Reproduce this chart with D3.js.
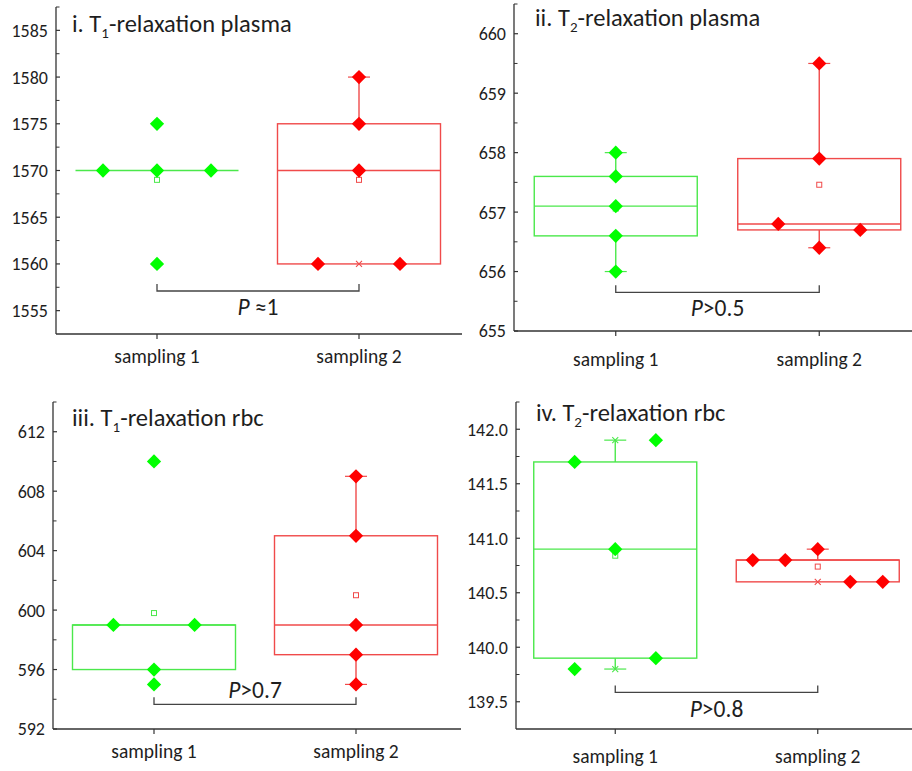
<!DOCTYPE html>
<html>
<head>
<meta charset="utf-8">
<script src="https://cdn.jsdelivr.net/npm/d3@7/dist/d3.min.js"></script>
<style>
  body { margin: 0; background: #fff; }
  svg { display: block; }
  text { font-family: Carlito, Lato, "Open Sans", sans-serif; fill: #1e1e1e; }
</style>
</head>
<body>
<svg id="chart" width="912" height="771"></svg>
<script>
// ---- data ---------------------------------------------------------------
const categories = ["sampling 1", "sampling 2"];

// i. T1-relaxation plasma
const t1PlasmaS1 = [1570, 1575, 1570, 1560, 1570];
const t1PlasmaS1Lane = [-1, 0, 0, 0, 1];
const t1PlasmaS2 = [1580, 1575, 1570, 1560, 1560];
const t1PlasmaS2Lane = [0, 0, 0, -1, 1];
// box statistics per sampling: [q1, median, q3, whisker low, whisker high]
const t1PlasmaBox = [[1570, 1570, 1570, 1570, 1570], [1560, 1570, 1575, 1560, 1580]];
const t1PlasmaCross = [[], [1560, 1580]];
const t1PlasmaTicks = [1555, 1560, 1565, 1570, 1575, 1580, 1585];

// ii. T2-relaxation plasma
const t2PlasmaS1 = [658.0, 657.6, 657.1, 656.6, 656.0];
const t2PlasmaS1Lane = [0, 0, 0, 0, 0];
const t2PlasmaS2 = [659.5, 657.9, 656.8, 656.4, 656.7];
const t2PlasmaS2Lane = [0, 0, -1, 0, 1];
const t2PlasmaBox = [[656.6, 657.1, 657.6, 656.0, 658.0], [656.7, 656.8, 657.9, 656.4, 659.5]];
const t2PlasmaCross = [[656.0, 658.0], [656.4, 659.5]];
const t2PlasmaTicks = [655, 656, 657, 658, 659, 660];

// iii. T1-relaxation rbc
const t1RbcS1 = [610, 599, 599, 596, 595];
const t1RbcS1Lane = [0, -1, 1, 0, 0];
const t1RbcS2 = [609, 605, 599, 597, 595];
const t1RbcS2Lane = [0, 0, 0, 0, 0];
const t1RbcBox = [[596, 599, 599, 596, 599], [597, 599, 605, 595, 609]];
const t1RbcCross = [[], [595, 609]];
const t1RbcTicks = [592, 596, 600, 604, 608, 612];

// iv. T2-relaxation rbc
const t2RbcS1 = [141.7, 141.9, 140.9, 139.8, 139.9];
const t2RbcS1Lane = [-1, 1, 0, -1, 1];
const t2RbcS2 = [140.8, 140.8, 140.9, 140.6, 140.6];
const t2RbcS2Lane = [-2, -1, 0, 1, 2];
const t2RbcBox = [[139.9, 140.9, 141.7, 139.8, 141.9], [140.6, 140.8, 140.8, 140.6, 140.9]];
const t2RbcCross = [[139.8, 141.9], [140.6, 140.9]];
const t2RbcTicks = [139.5, 140.0, 140.5, 141.0, 141.5, 142.0];

const pValues = ["≈1", ">0.5", ">0.7", ">0.8"];

// ---- styling --------------------------------------------------------------
const seriesStyle = [
  { fill: "#00ff00", line: "#4be84b" },
  { fill: "#ff0000", line: "#f04a4a" }
];
const axisColor = "#333";
const tickFont = 18, catFont = 19.5, titleFont = 24.5, subFont = 15, pFont = 23.5;

// ---- panel layout ---------------------------------------------------------
const panels = [
  {
    title: ["i. T", "1", "-relaxation plasma"], titleX: 72, titleY: 32,
    axisX: 56, top: 7, bottom: 334, xEnd: 462, xRange: [56, 460],
    domain: [1552.5, 1587.5], ticks: t1PlasmaTicks, fmt: d3.format("d"),
    values: [t1PlasmaS1, t1PlasmaS2], lanes: [t1PlasmaS1Lane, t1PlasmaS2Lane],
    lanePitch: [54, 41], box: t1PlasmaBox, cross: t1PlasmaCross,
    bracket: 1557.1, pText: pValues[0], pDy: 24, labelDy: 29
  },
  {
    title: ["ii. T", "2", "-relaxation plasma"], titleX: 535, titleY: 26,
    axisX: 514, top: 4, bottom: 331, xEnd: 912, xRange: [514, 921],
    domain: [655, 660.5], ticks: t2PlasmaTicks, fmt: d3.format("d"),
    values: [t2PlasmaS1, t2PlasmaS2], lanes: [t2PlasmaS1Lane, t2PlasmaS2Lane],
    lanePitch: [40, 41], box: t2PlasmaBox, cross: t2PlasmaCross,
    bracket: 655.65, pText: pValues[1], pDy: 24, labelDy: 35
  },
  {
    title: ["iii. T", "1", "-relaxation rbc"], titleX: 72, titleY: 426,
    axisX: 53, top: 402, bottom: 729, xEnd: 461, xRange: [53, 457],
    domain: [592, 614], ticks: t1RbcTicks, fmt: d3.format("d"),
    values: [t1RbcS1, t1RbcS2], lanes: [t1RbcS1Lane, t1RbcS2Lane],
    lanePitch: [40.6, 40], box: t1RbcBox, cross: t1RbcCross,
    bracket: 593.66, pText: pValues[2], pDy: -6, labelDy: 29
  },
  {
    title: ["iv. T", "2", "-relaxation rbc"], titleX: 536, titleY: 421,
    axisX: 516, top: 402, bottom: 729, xEnd: 912, xRange: [514, 919],
    domain: [139.25, 142.25], ticks: t2RbcTicks, fmt: d3.format(".1f"),
    values: [t2RbcS1, t2RbcS2], lanes: [t2RbcS1Lane, t2RbcS2Lane],
    lanePitch: [40.6, 32.5], box: t2RbcBox, cross: t2RbcCross,
    bracket: 139.586, pText: pValues[3], pDy: 24.5, labelDy: 34
  }
];

const svg = d3.select("#chart");
const boxWidth = 163;
const diamond = d3.symbol().type(d3.symbolDiamond2).size(130);

panels.forEach(p => {
  const g = svg.append("g");
  const y = d3.scaleLinear().domain(p.domain).range([p.bottom, p.top]);
  const x = d3.scalePoint().domain(categories).range(p.xRange).padding(0.5);

  // y axis: inward ticks, labels on the left
  g.append("line").attr("x1", p.axisX).attr("x2", p.axisX)
    .attr("y1", p.top).attr("y2", p.bottom)
    .attr("stroke", axisColor).attr("stroke-width", 1.3);
  const step = p.ticks[1] - p.ticks[0];
  const minor = [];
  for (let v = p.ticks[0] - step / 2; v <= p.domain[1] + 1e-9; v += step) {
    if (v > p.domain[0] + 1e-9) minor.push(v);
  }
  g.selectAll(".minor").data(minor).join("line")
    .attr("x1", p.axisX).attr("x2", p.axisX + 3.5)
    .attr("y1", d => y(d)).attr("y2", d => y(d))
    .attr("stroke", axisColor).attr("stroke-width", 1);
  g.selectAll(".major").data(p.ticks).join("line")
    .attr("x1", p.axisX).attr("x2", p.axisX + 4)
    .attr("y1", d => y(d)).attr("y2", d => y(d))
    .attr("stroke", axisColor).attr("stroke-width", 1.2);
  g.selectAll(".ylab").data(p.ticks).join("text")
    .attr("x", p.axisX - 8).attr("y", d => y(d))
    .attr("dy", "0.36em").attr("text-anchor", "end")
    .attr("font-size", tickFont).text(d => p.fmt(d));

  // x axis
  g.append("line").attr("x1", p.axisX).attr("x2", p.xEnd)
    .attr("y1", p.bottom).attr("y2", p.bottom)
    .attr("stroke", axisColor).attr("stroke-width", 1.3);
  categories.forEach(c => {
    g.append("line").attr("x1", x(c)).attr("x2", x(c))
      .attr("y1", p.bottom).attr("y2", p.bottom + 5)
      .attr("stroke", axisColor).attr("stroke-width", 1.2);
    g.append("text").attr("x", x(c)).attr("y", p.bottom + p.labelDy)
      .attr("text-anchor", "middle").attr("font-size", catFont).text(c);
  });

  // title with subscript
  const t = g.append("text").attr("x", p.titleX).attr("y", p.titleY).attr("font-size", titleFont);
  t.append("tspan").text(p.title[0]);
  t.append("tspan").attr("font-size", subFont).attr("dy", 6).text(p.title[1]);
  t.append("tspan").attr("dy", -6).text(p.title[2]);

  // boxes, whiskers, markers, points
  categories.forEach((c, i) => {
    const cx = x(c);
    const st = seriesStyle[i];
    const [q1, med, q3, lo, hi] = p.box[i];
    const bg = g.append("g");
    bg.append("rect").attr("x", cx - boxWidth / 2).attr("width", boxWidth)
      .attr("y", y(q3)).attr("height", y(q1) - y(q3))
      .attr("fill", "none").attr("stroke", st.line).attr("stroke-width", 1.4);
    bg.append("line").attr("x1", cx - boxWidth / 2).attr("x2", cx + boxWidth / 2)
      .attr("y1", y(med)).attr("y2", y(med))
      .attr("stroke", st.line).attr("stroke-width", 1.4);
    [[q3, hi], [q1, lo]].forEach(([a, b]) => {
      if (a === b) return;
      bg.append("line").attr("x1", cx).attr("x2", cx).attr("y1", y(a)).attr("y2", y(b))
        .attr("stroke", st.line).attr("stroke-width", 1.4);
      bg.append("line").attr("x1", cx - 11).attr("x2", cx + 11).attr("y1", y(b)).attr("y2", y(b))
        .attr("stroke", st.line).attr("stroke-width", 1.2);
    });
    p.cross[i].forEach(v => {
      bg.append("path")
        .attr("d", `M${cx - 3},${y(v) - 3}L${cx + 3},${y(v) + 3}M${cx - 3},${y(v) + 3}L${cx + 3},${y(v) - 3}`)
        .attr("stroke", st.line).attr("stroke-width", 1.1);
    });
    const mean = d3.mean(p.values[i]);
    bg.append("rect").attr("x", cx - 2.5).attr("y", y(mean) - 2.5)
      .attr("width", 5).attr("height", 5)
      .attr("fill", "#fff").attr("stroke", st.line).attr("stroke-width", 1);

    bg.selectAll(".pt").data(p.values[i]).join("path")
      .attr("d", diamond)
      .attr("transform", (d, k) => `translate(${cx + p.lanes[i][k] * p.lanePitch[i]},${y(d)})`)
      .attr("fill", st.fill);
  });

  // significance bracket
  const by = y(p.bracket);
  const bx1 = x(categories[0]), bx2 = x(categories[1]);
  g.append("path")
    .attr("d", `M${bx1},${by - 7}V${by}H${bx2}V${by - 7}`)
    .attr("fill", "none").attr("stroke", "#444").attr("stroke-width", 1.3);
  const pt = g.append("text").attr("x", (bx1 + bx2) / 2).attr("y", by + p.pDy)
    .attr("text-anchor", "middle").attr("font-size", pFont);
  pt.append("tspan").attr("font-style", "italic").text("P");
  pt.append("tspan").text(p.pText === "≈1" ? " ≈1" : p.pText);
});
</script>
</body>
</html>
